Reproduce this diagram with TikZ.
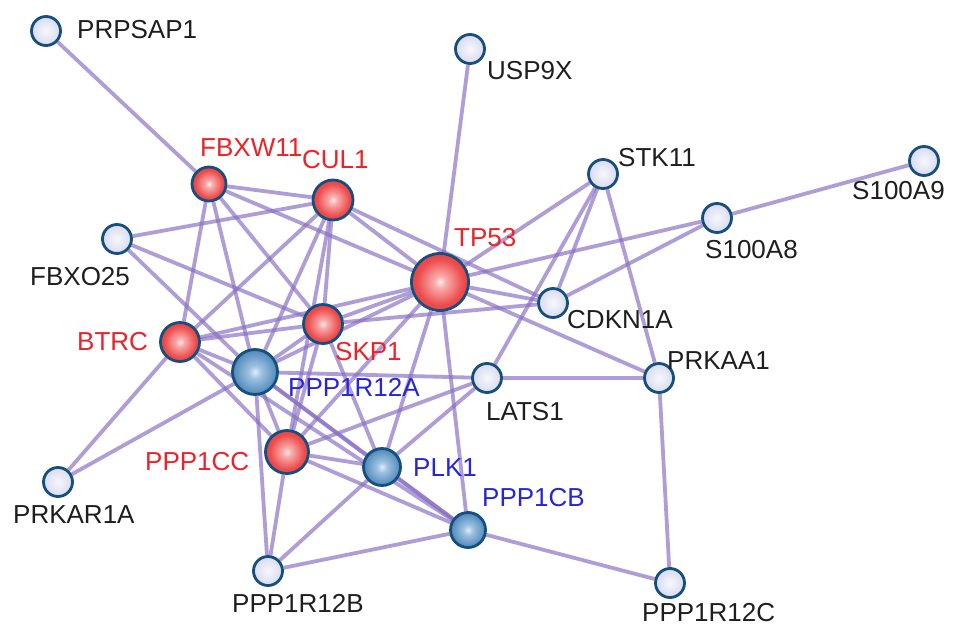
\documentclass[tikz,border=0pt]{standalone}
\usepackage{fontspec}
\setmainfont{Liberation Sans}
\usetikzlibrary{backgrounds}
\definecolor{edgec}{RGB}{136,112,196}
\definecolor{rimc}{RGB}{22,78,125}
\definecolor{redt}{RGB}{236,34,40}
\definecolor{bluet}{RGB}{38,38,214}
\definecolor{blackt}{RGB}{30,30,30}
\pgfdeclareradialshading{redsh}{\pgfpoint{0bp}{0bp}}{rgb(0bp)=(1,0.92,0.92); rgb(5bp)=(0.98,0.68,0.68); rgb(20bp)=(0.93,0.3,0.3); rgb(50bp)=(0.86,0.1,0.12)}
\pgfdeclareradialshading{bluesh}{\pgfpoint{0bp}{0bp}}{rgb(0bp)=(0.88,0.93,0.97); rgb(7bp)=(0.62,0.76,0.88); rgb(26bp)=(0.28,0.52,0.72); rgb(50bp)=(0.15,0.4,0.62)}
\pgfdeclareradialshading{lightsh}{\pgfpoint{0bp}{0bp}}{rgb(0bp)=(0.97,0.97,0.99); rgb(18bp)=(0.88,0.89,0.95); rgb(50bp)=(0.74,0.77,0.9)}
\tikzset{
  gnode/.style={circle, draw=rimc, line width=2.8pt, inner sep=0pt},
  rnode/.style={gnode, shading=redsh},
  bnode/.style={gnode, shading=bluesh},
  lnode/.style={gnode, shading=lightsh},
  lbl/.style={anchor=west, inner sep=0pt, font=\fontsize{26}{30}\selectfont},
  link/.style={draw=edgec, line width=3.8pt, opacity=0.68}
}
\begin{document}
\begin{tikzpicture}[x=1pt,y=-1pt]
\useasboundingbox (0,0) rectangle (969,639);
% nodes
\node[lnode, minimum size=29pt] (PRPSAP1) at (46,31) {};
\node[lnode, minimum size=29pt] (USP9X) at (470,49) {};
\node[rnode, minimum size=34pt] (FBXW11) at (209,184) {};
\node[rnode, minimum size=40pt] (CUL1) at (333,200) {};
\node[lnode, minimum size=29pt] (FBXO25) at (117,239) {};
\node[rnode, minimum size=57pt] (TP53) at (440,282) {};
\node[lnode, minimum size=29pt] (STK11) at (603,174) {};
\node[lnode, minimum size=29pt] (S100A9) at (924,161) {};
\node[lnode, minimum size=29pt] (S100A8) at (717,218) {};
\node[lnode, minimum size=29pt] (CDKN1A) at (553,303) {};
\node[rnode, minimum size=39pt] (SKP1) at (323,324) {};
\node[rnode, minimum size=39pt] (BTRC) at (180,342) {};
\node[bnode, minimum size=45pt] (PPP1R12A) at (255,372) {};
\node[lnode, minimum size=29pt] (LATS1) at (487,378) {};
\node[lnode, minimum size=29pt] (PRKAA1) at (659,378) {};
\node[rnode, minimum size=43pt] (PPP1CC) at (287,452) {};
\node[bnode, minimum size=37pt] (PLK1) at (382,467) {};
\node[lnode, minimum size=29pt] (PRKAR1A) at (58,482) {};
\node[bnode, minimum size=35pt] (PPP1CB) at (468,530) {};
\node[lnode, minimum size=29pt] (PPP1R12B) at (268,571) {};
\node[lnode, minimum size=29pt] (PPP1R12C) at (670,583) {};
% labels
\node[lbl, text=blackt] (tPRPSAP1) at (77,30) {PRPSAP1};
\node[lbl, text=blackt] (tUSP9X) at (487,71) {USP9X};
\node[lbl, text=redt] (tFBXW11) at (200,148) {FBXW11};
\node[lbl, text=redt] (tCUL1) at (302,160) {CUL1};
\node[lbl, text=blackt] (tFBXO25) at (30,277) {FBXO25};
\node[lbl, text=redt] (tTP53) at (454,238) {TP53};
\node[lbl, text=blackt] (tSTK11) at (618,158) {STK11};
\node[lbl, text=blackt] (tS100A9) at (852,191) {S100A9};
\node[lbl, text=blackt] (tS100A8) at (705,250) {S100A8};
\node[lbl, text=blackt] (tCDKN1A) at (567,320) {CDKN1A};
\node[lbl, text=blackt] (tPRKAA1) at (667,361) {PRKAA1};
\node[lbl, text=blackt] (tLATS1) at (486,412) {LATS1};
\node[lbl, text=redt] (tBTRC) at (77,342) {BTRC};
\node[lbl, text=redt] (tSKP1) at (335,352) {SKP1};
\node[lbl, text=bluet] (tPPP1R12A) at (288,387) {PPP1R12A};
\node[lbl, text=redt] (tPPP1CC) at (145,462) {PPP1CC};
\node[lbl, text=bluet] (tPLK1) at (413,468) {PLK1};
\node[lbl, text=bluet] (tPPP1CB) at (482,498) {PPP1CB};
\node[lbl, text=blackt] (tPRKAR1A) at (13,515) {PRKAR1A};
\node[lbl, text=blackt] (tPPP1R12B) at (232,603) {PPP1R12B};
\node[lbl, text=blackt] (tPPP1R12C) at (642,613) {PPP1R12C};
% edges
\begin{scope}[on background layer]
\fill[white] (0,0) rectangle (969,639);
\foreach \a/\b in {PRPSAP1/FBXW11, USP9X/TP53, S100A9/S100A8, S100A8/TP53, S100A8/CDKN1A,
  STK11/TP53, STK11/CDKN1A, STK11/LATS1, STK11/PRKAA1,
  PRKAA1/PPP1R12C, PRKAA1/LATS1, PRKAA1/TP53, PPP1R12C/PPP1CB,
  TP53/CDKN1A, TP53/CUL1, TP53/FBXW11, TP53/SKP1, TP53/BTRC, TP53/PPP1CC, TP53/PLK1, TP53/PPP1CB, TP53/PPP1R12A,
  CUL1/FBXW11, CUL1/FBXO25, CUL1/SKP1, CUL1/BTRC, CUL1/PPP1R12A, CUL1/PPP1CC, CUL1/CDKN1A,
  FBXW11/BTRC, FBXW11/SKP1, FBXW11/PPP1R12A,
  FBXO25/SKP1, FBXO25/PPP1R12A,
  BTRC/SKP1, BTRC/PRKAR1A, BTRC/PPP1R12A, BTRC/PPP1CC, BTRC/PPP1CB,
  PRKAR1A/PPP1R12A,
  SKP1/CDKN1A, SKP1/PPP1R12A, SKP1/PPP1CC, SKP1/PLK1,
  PPP1R12A/LATS1, PPP1R12A/PPP1CC, PPP1R12A/PLK1, PPP1R12A/PPP1CB, PPP1R12A/PPP1R12B,
  PPP1CC/PLK1, PPP1CC/PPP1CB, PPP1CC/PPP1R12B, PPP1CC/LATS1,
  PLK1/PPP1CB, PLK1/LATS1, PLK1/PPP1R12B, PPP1CB/PPP1R12B}
  \draw[link] (\a) -- (\b);
\end{scope}
\end{tikzpicture}
\end{document}
